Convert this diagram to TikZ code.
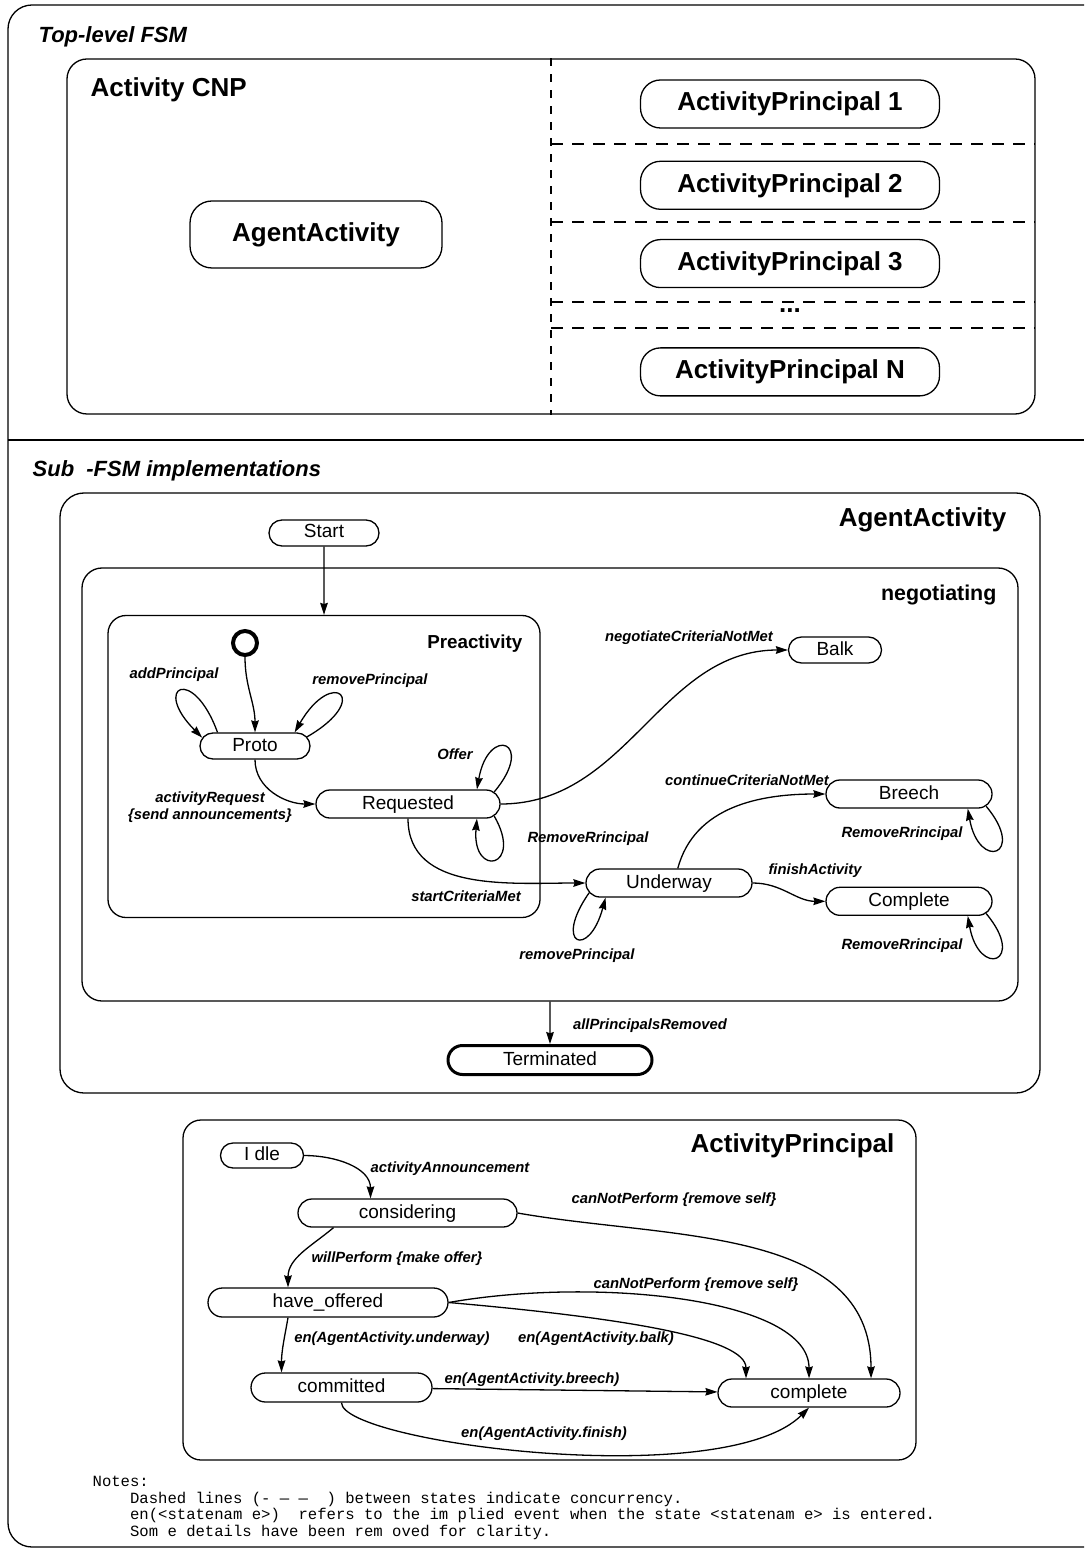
\documentclass[tikz,border=0pt]{standalone}
\usepackage{fontspec}
\setmainfont{Liberation Sans}
\newfontfamily\notefont{Liberation Mono}
\usepackage{tikz}
\usetikzlibrary{arrows.meta,positioning,shapes.misc}

\begin{document}
\begin{tikzpicture}[->,>={Stealth[length=6pt,width=3.8pt,inset=0.6pt]},x=0.5pt,y=-0.5pt,line width=0.65pt,
  state node/.style={rounded rectangle,draw,inner sep=0pt,text height=7pt,text depth=2pt,font=\fontsize{9.5}{11}\selectfont},
  ap node/.style={rectangle,draw,rounded corners=10pt,inner sep=0pt,minimum width=149.5pt,minimum height=24pt,font=\fontsize{13}{15}\selectfont\bfseries},
  box node/.style={rectangle,draw,inner sep=0pt},
  title node/.style={inner sep=0pt,font=\fontsize{13}{15}\selectfont\bfseries},
  section title/.style={inner sep=0pt,font=\fontsize{11}{13}\selectfont\bfseries\itshape},
  trans label/.style={inner sep=0pt,text height=5.5pt,text depth=1.5pt,font=\fontsize{7.4}{8.5}\selectfont\bfseries\itshape},
  note text/.style={inner sep=0pt,align=left,font=\notefont\fontsize{7.8}{8.25}\selectfont}]
    \useasboundingbox (0,0) rectangle (1084,1550);
    \clip (0,0) rectangle (1084,1550);

    % frame of the whole figure
    \draw[-,rounded corners=12pt] (1100,5) -- (8,5) -- (8,1547) -- (1100,1547);
    \draw[-,line width=1.3pt] (8,440) -- (1084,440);
    \node[section title,anchor=base west] (toptitle) at (38,43) {Top-level FSM};
    \node[section title,anchor=base west] (subtitle) at (32,477) {Sub\ \ -FSM implementations};

    % top level
    \node[box node,rounded corners=10pt,minimum width=484pt,minimum height=177.5pt] (cnp) at (551,236.5) {};
    \node[title node,anchor=base west] (cnptitle) at (90,97) {Activity CNP};
    \node[ap node,rounded corners=11pt,minimum width=126pt,minimum height=33.5pt] (agtop) at (316,234.5) {AgentActivity};
    \node[ap node] (ap1) at (790,104) {ActivityPrincipal 1};
    \node[ap node,below=16pt of ap1] (ap2) {ActivityPrincipal 2};
    \node[ap node,below=14.5pt of ap2] (ap3) {ActivityPrincipal 3};
    \node[ap node,below=29.5pt of ap3] (apn) {ActivityPrincipal N};
    \node[title node,anchor=base] (dots) at (790,313) {...};
    \draw[-,dash pattern=on 4pt off 4pt] (cnp.north) -- (cnp.south);
    \foreach \y in {144,222,302,328}
      \draw[-,dash pattern=on 6pt off 4.5pt] (551,\y) -- (1035,\y);

    % AgentActivity
    \node[box node,rounded corners=12pt,minimum width=490pt,minimum height=300pt] (agbox) at (550,793) {};
    \node[title node,anchor=base east] (agtitle) at (1007,526) {AgentActivity};
    \node[box node,rounded corners=10pt,minimum width=468pt,minimum height=216.5pt] (nego) at (550,784.5) {};
    \node[title node,font=\fontsize{10.7}{13}\selectfont\bfseries,anchor=base east] (negotitle) at (997,600) {negotiating};
    \node[box node,rounded corners=9pt,minimum width=216pt,minimum height=151pt] (pre) at (324,766.5) {};
    \node[title node,font=\fontsize{9.4}{11}\selectfont\bfseries,anchor=base east] (pretitle) at (523,648) {Preactivity};

    \node[state node,minimum width=55pt,minimum height=13pt] (start) at (324,533) {Start};
    \node[circle,draw,line width=2pt,minimum size=12pt,inner sep=0pt] (init) at (245,643) {};
    \node[state node,minimum width=55pt,minimum height=13pt] (proto) at (255,746) {Proto};
    \node[state node,minimum width=92pt,minimum height=14pt] (req) at (408,804) {Requested};
    \node[state node,minimum width=46.5pt,minimum height=13pt] (balk) at (835,650) {Balk};
    \node[state node,minimum width=83pt,minimum height=14pt] (und) at (669,883) {Underway};
    \node[state node,minimum width=83pt,minimum height=14pt] (breech) at (909,794) {Breech};
    \node[state node,minimum width=83pt,minimum height=14pt,below=39pt of breech] (compa) {Complete};
    \node[state node,line width=1.5pt,minimum width=102pt,minimum height=14.5pt] (term) at (550,1060) {Terminated};

    \path (start) edge (pre)
          (init) edge[out=-90,in=90] (proto)
          (proto) edge[out=-90,in=180] (req)
          (req) edge[out=0,in=180] (balk)
          (req) edge[out=-90,in=180] (und)
          (und.59) edge[out=75,in=180] (breech)
          (und) edge[out=0,in=180] (compa)
          (nego) edge (term)
    ;
    \path (proto.160) edge[out=110,in=135,distance=36pt] (proto.171)
          (proto.10) edge[out=30,in=60,distance=38pt] (proto.19)
          (req.8) edge[out=50,in=80,distance=33pt] (req.12)
          (req.-8) edge[out=-60,in=-95,distance=30pt] (req.-12)
          (und.187) edge[out=-125,in=-105,distance=32pt] (und.193)
          (breech.-9) edge[out=-50,in=-80,distance=32pt] (breech.-14)
          (compa.-9) edge[out=-50,in=-80,distance=32pt] (compa.-14)
    ;
    \node[trans label] (laddp) at (174,674) {addPrincipal};
    \node[trans label] (lremp) at (370,680) {removePrincipal};
    \node[trans label,align=center] (lreq) at (210,815) {activityRequest\\\{send announcements\}};
    \node[trans label] (loffer) at (455,755) {Offer};
    \node[trans label] (lremr) at (588,838) {RemoveRrincipal};
    \node[trans label] (lnego) at (689,637) {negotiateCriteriaNotMet};
    \node[trans label] (lstart) at (466,897) {startCriteriaMet};
    \node[trans label] (lremp2) at (577,955) {removePrincipal};
    \node[trans label] (lcont) at (747,781) {continueCriteriaNotMet};
    \node[trans label] (lfinish) at (815,870) {finishActivity};
    \node[trans label] (lremr2) at (902,833) {RemoveRrincipal};
    \node[trans label] (lremr3) at (902,945) {RemoveRrincipal};
    \node[trans label] (lallrem) at (650,1025) {allPrincipalsRemoved};

    % ActivityPrincipal
    \node[box node,rounded corners=9pt,minimum width=366.5pt,minimum height=170pt] (apbox) at (549.5,1290) {};
    \node[title node,anchor=base east] (aptitle) at (895,1152) {ActivityPrincipal};
    \node[state node,minimum width=41.5pt,minimum height=12.5pt] (idle) at (262,1155.5) {I dle};
    \node[state node,minimum width=109.5pt,minimum height=14pt] (cons) at (407.5,1213) {considering};
    \node[state node,minimum width=120pt,minimum height=14.5pt] (have) at (328,1302.5) {have\_offered};
    \node[state node,minimum width=90.5pt,minimum height=14.5pt] (comm) at (341.5,1387.5) {committed};
    \node[state node,minimum width=91pt,minimum height=14pt] (compl) at (809,1393) {complete};

    \path (idle) edge[out=0,in=90] ([xshift=-18.5pt]cons.north)
          ([xshift=-37pt]cons.south) edge[out=-140,in=90] ([xshift=-20pt]have.north)
          (cons.east) edge[out=-10,in=90] ([xshift=31pt]compl.north)
          ([xshift=-20pt]have.south) edge[out=-100,in=90] ([xshift=-30pt]comm.north)
          (have.east) edge[out=10,in=90,out distance=75pt,in distance=40pt] (compl)
          (have.east) edge[out=-5,in=90,out distance=90pt,in distance=20pt] ([xshift=-31.5pt]compl.north)
          (comm) edge (compl)
          (comm.south) edge[out=-90,in=-135,out distance=20pt,in distance=60pt] (compl.south)
    ;
    \node[trans label] (lann) at (450,1168) {activityAnnouncement};
    \node[trans label] (lcannot) at (674,1199) {canNotPerform \{remove self\}};
    \node[trans label] (lwill) at (397,1258) {willPerform \{make offer\}};
    \node[trans label] (lcannot2) at (696,1284) {canNotPerform \{remove self\}};
    \node[trans label] (lund) at (392,1338) {en(AgentActivity.underway)};
    \node[trans label] (lbalk) at (596,1338) {en(AgentActivity.balk)};
    \node[trans label] (lbreech) at (532,1379) {en(AgentActivity.breech)};
    \node[trans label] (lfin) at (544,1433) {en(AgentActivity.finish)};

    \node[note text,anchor=base west] (notes) at (92,1536) {Notes:\\
      \phantom{Note}Dashed lines (-~—~—~~)~between states indicate concurrency.\\
      \phantom{Note}en(<statenam e>)~~refers to the im plied event when the state <statenam e> is entered.\\
      \phantom{Note}Som e details have been rem oved for clarity.};

\end{tikzpicture}
\end{document}
